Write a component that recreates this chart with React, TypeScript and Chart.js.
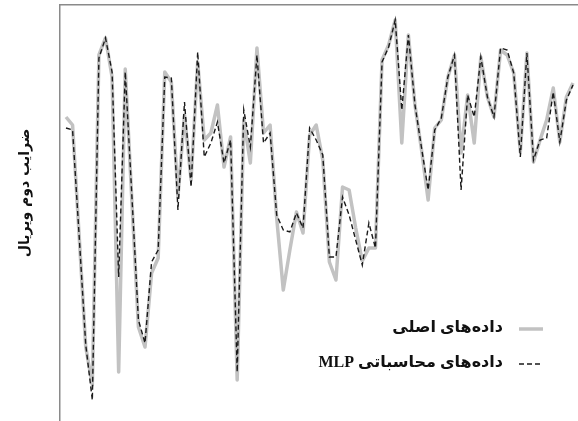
import React, { useEffect, useRef } from "react";
import { Chart, registerables } from "chart.js";

Chart.register(...registerables);

// Sample index (x) for each point
const sampleIndex = [
  0, 1, 2, 3, 4, 5, 6, 7, 8, 9, 10, 11, 12, 13, 14, 15, 16, 17, 18, 19,
  20, 21, 22, 23, 24, 25, 26, 27, 28, 29, 30, 31, 32, 33, 34, 35, 36, 37, 38, 39,
  40, 41, 42, 43, 44, 45, 46, 47, 48, 49, 50, 51, 52, 53, 54, 55, 56, 57, 58, 59,
  60, 61, 62, 63, 64, 65, 66, 67, 68, 69, 70, 71, 72, 73, 74, 75, 76, 77,
];

// Original data (gray solid line), arbitrary units
const originalData = [
  304, 296, 185, 74, 36, 366, 383, 344, 49, 352,
  221, 94, 74, 148, 163, 349, 339, 224, 306, 241,
  359, 281, 288, 316, 254, 284, 41, 301, 258, 373,
  288, 296, 203, 131, 171, 209, 188, 286, 296, 261,
  159, 141, 234, 231, 193, 160, 173, 173, 361, 376,
  401, 278, 386, 316, 271, 221, 293, 301, 344, 366,
  268, 326, 278, 364, 324, 304, 371, 366, 348, 269,
  368, 259, 281, 301, 333, 279, 324, 338,
];

// MLP computed data (black dashed line)
const mlpData = [
  293, 291, 185, 76, 21, 363, 383, 349, 144, 349,
  226, 101, 78, 159, 171, 344, 343, 211, 319, 234,
  369, 264, 278, 299, 258, 281, 49, 311, 274, 366,
  278, 288, 206, 191, 189, 208, 193, 293, 281, 266,
  164, 164, 224, 206, 181, 156, 198, 173, 359, 374,
  401, 311, 386, 316, 273, 231, 291, 303, 344, 366,
  231, 326, 304, 364, 324, 304, 373, 371, 348, 264,
  368, 261, 281, 283, 329, 279, 321, 336,
];

const seriesLabels = ["داده‌های اصلی", "داده‌های محاسباتی MLP"];
const yAxisTitle = "ضرایب دوم ویریال";

const overlayPlugin = {
  id: "overlay",
  afterDraw(chart: any) {
    const ctx = chart.ctx as CanvasRenderingContext2D;
    // Y axis title
    ctx.save();
    ctx.translate(25, 193);
    ctx.rotate(-Math.PI / 2);
    ctx.font = 'bold 14px "DejaVu Sans"';
    ctx.fillStyle = "#111";
    ctx.textAlign = "center";
    ctx.textBaseline = "middle";
    ctx.fillText(yAxisTitle, 0, 0);
    ctx.restore();

    // Legend (inside plot, bottom right)
    const rows = [328, 363];
    chart.data.datasets.forEach((ds: any, i: number) => {
      const y = rows[i];
      ctx.save();
      ctx.strokeStyle = ds.borderColor;
      ctx.lineWidth = ds.borderWidth;
      ctx.setLineDash(ds.borderDash || []);
      ctx.beginPath();
      ctx.moveTo(519, y + 1);
      ctx.lineTo(543, y + 1);
      ctx.stroke();
      ctx.setLineDash([]);
      ctx.font = 'bold 16px "Liberation Serif", "DejaVu Sans"';
      ctx.fillStyle = "#111";
      (ctx as any).direction = "rtl";
      ctx.textAlign = "right";
      ctx.textBaseline = "middle";
      ctx.fillText(ds.label, 503, y);
      ctx.restore();
    });
  },
};

export default function App() {
  const canvasRef = useRef<HTMLCanvasElement | null>(null);

  useEffect(() => {
    document.body.style.margin = "0";
    const canvas = canvasRef.current;
    if (!canvas) return;
    const chart = new Chart(canvas, {
      type: "line",
      data: {
        datasets: [
          {
            label: seriesLabels[0],
            data: sampleIndex.map((x, i) => ({ x, y: originalData[i] })),
            borderColor: "#c2c2c2",
            borderWidth: 3.5,
            borderJoinStyle: "round",
            pointRadius: 0,
            tension: 0,
            fill: false,
            order: 1,
          },
          {
            label: seriesLabels[1],
            data: sampleIndex.map((x, i) => ({ x, y: mlpData[i] })),
            borderColor: "#1a1a1a",
            borderWidth: 1.4,
            borderDash: [5, 3],
            pointRadius: 0,
            tension: 0,
            fill: false,
            order: 0,
          },
        ],
      },
      options: {
        animation: false,
        responsive: false,
        devicePixelRatio: 1,
        layout: { padding: { left: 60, top: 5, right: 0, bottom: 0 } },
        plugins: {
          legend: { display: false },
          tooltip: { enabled: false },
          title: { display: false },
        },
        scales: {
          x: {
            type: "linear",
            position: "top",
            min: -0.91,
            max: 77.76,
            grid: { display: false, drawTicks: false },
            ticks: { display: false },
            border: { display: true, color: "#8a8a8a", width: 1.5 },
          },
          y: {
            type: "linear",
            min: 0,
            max: 416,
            grid: { display: false, drawTicks: false },
            ticks: { display: false },
            border: { display: true, color: "#8a8a8a", width: 1.5 },
          },
        },
      },
      plugins: [overlayPlugin],
    });
    return () => chart.destroy();
  }, []);

  return (
    <div style={{ position: "fixed", left: 0, top: 0, width: 578, height: 421, background: "#fff" }}>
      <canvas ref={canvasRef} width={578} height={421} />
    </div>
  );
}
